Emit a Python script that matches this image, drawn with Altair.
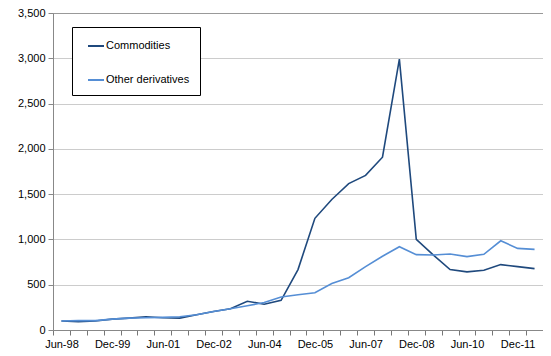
import altair as alt
import pandas as pd

periods = ["Jun-98", "Dec-98", "Jun-99", "Dec-99", "Jun-00", "Dec-00", "Jun-01", "Dec-01",
           "Jun-02", "Dec-02", "Jun-03", "Dec-03", "Jun-04", "Dec-04", "Jun-05", "Dec-05",
           "Jun-06", "Dec-06", "Jun-07", "Dec-07", "Jun-08", "Dec-08", "Jun-09", "Dec-09",
           "Jun-10", "Dec-10", "Jun-11", "Dec-11", "Jun-12"]

commodities = [99, 92, 99, 120, 131, 146, 135, 131, 168, 205, 234, 317, 285, 328, 667, 1233,
               1441, 1616, 1707, 1908, 2990, 1000, 830, 668, 642, 660, 722, 700, 678]
other_derivatives = [99, 103, 104, 120, 131, 135, 139, 146, 168, 205, 234, 267, 303, 365, 390, 412,
                     514, 577, 700, 814, 919, 832, 828, 839, 810, 836, 985, 901, 890]

series_names = ["Commodities", "Other derivatives"]
series_colors = ["#1F497D", "#558ED5"]
shown_labels = ["Jun-98", "Dec-99", "Jun-01", "Dec-02", "Jun-04", "Dec-05", "Jun-07",
                "Dec-08", "Jun-10", "Dec-11"]

rows = []
for p, c, o in zip(periods, commodities, other_derivatives):
    rows.append({"period": p, "series": series_names[0], "value": c})
    rows.append({"period": p, "series": series_names[1], "value": o})
df = pd.DataFrame(rows)

label_list = "[" + ",".join("'" + s + "'" for s in shown_labels) + "]"

chart = alt.Chart(df).mark_line(strokeWidth=1.6).encode(
    x=alt.X("period:N", sort=periods, bandPosition=0.5,
            scale=alt.Scale(type="band", paddingInner=0, paddingOuter=0),
            axis=alt.Axis(title=None, tickBand="extent", labelAngle=0, grid=False, ticks=True,
                          labelExpr="indexof(" + label_list + ", datum.value) >= 0 ? datum.label : ''",
                          labelFont="Liberation Sans", labelFontSize=11, labelColor="#000",
                          domainColor="#888", tickColor="#777", tickSize=5, tickWidth=1,
                          labelPadding=3, labelOverlap=False)),
    y=alt.Y("value:Q", scale=alt.Scale(domain=[0, 3500]),
            axis=alt.Axis(title=None, values=list(range(0, 3501, 500)), format=",.0f",
                          labelFont="Liberation Sans", labelFontSize=11, labelColor="#000",
                          domainColor="#888", tickColor="#888", tickSize=5, labelPadding=3,
                          gridColor="#999", gridDash=[1, 1], gridWidth=1)),
    color=alt.Color("series:N", sort=series_names,
                    scale=alt.Scale(domain=series_names, range=series_colors),
                    legend=alt.Legend(title=None, orient="none", legendX=19, legendY=14,
                                      strokeColor="#000", padding=10, symbolOffset=5,
                                      symbolType="stroke", symbolSize=256, symbolStrokeWidth=2,
                                      rowPadding=20, labelFont="Liberation Sans", labelFontSize=11,
                                      labelColor="#000", labelOffset=1, fillColor="#fff")),
).properties(
    width=490, height=317,
    autosize=alt.AutoSizeParams(type="none"),
    padding={"left": 45, "top": 5, "right": 0, "bottom": 18},
).configure_view(stroke="#999", strokeWidth=1)

chart.save("out.html", embed_options={"renderer": "svg", "actions": False})
